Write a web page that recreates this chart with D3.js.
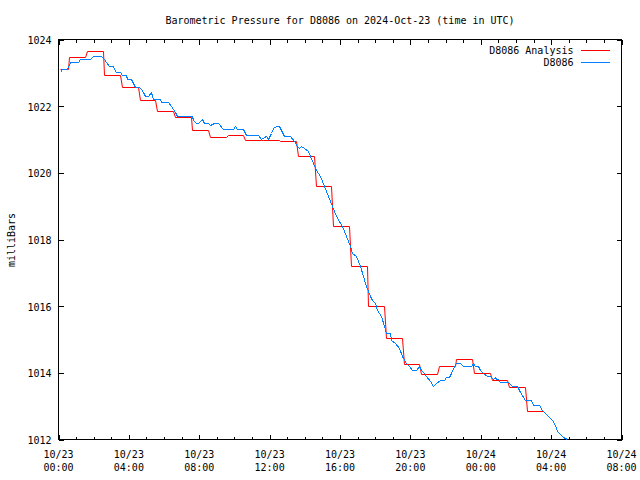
<!DOCTYPE html>
<html><head><meta charset="utf-8">
<script src="https://cdn.jsdelivr.net/npm/d3@7"></script>
<style>
body{margin:0;background:#fff}
svg{display:block}
text{font-family:"DejaVu Sans Mono",monospace;font-size:10px;fill:#000}
</style>
</head><body>
<svg id="c" width="640" height="480"></svg>
<script>
// ---------- data ----------
const chartTitle = "Barometric Pressure for D8086 on 2024-Oct-23 (time in UTC)";
const yAxisLabel = "milliBars";
const seriesNames = ["D8086 Analysis", "D8086"];
const seriesColors = ["#ff0000", "#0080ff"];

const xTickHours = [0, 4, 8, 12, 16, 20, 24, 28, 32];
const xTickDates = ["10/23","10/23","10/23","10/23","10/23","10/23","10/24","10/24","10/24"];
const xTickTimes = ["00:00","04:00","08:00","12:00","16:00","20:00","00:00","04:00","08:00"];
const yTicks = [1012, 1014, 1016, 1018, 1020, 1022, 1024];

// hourly analysis values (hours since 10/23 00:00 UTC)
const analysisHours = [0,1,2,3,4,5,6,7,8,9,10,11,12,13,14,15,16,17,18,19,20,21,22,23,24,25,26,27];
const analysisPressure = [1023.10,1023.46,1023.65,1022.92,1022.56,1022.18,1021.84,1021.67,1021.27,1021.06,
  1021.13,1020.98,1020.98,1020.93,1020.50,1019.60,1018.40,1017.20,1016.00,1015.03,
  1014.26,1013.96,1014.19,1014.40,1013.98,1013.78,1013.56,1012.85];

// station observations
const obsHours = [0.11,0.25,0.53,0.67,1.16,1.25,1.81,1.99,2.43,2.62,2.75,2.90,3.12,3.19,3.29,3.51,3.66,3.87,3.95,4.14,
  4.23,4.37,4.61,4.71,4.84,4.95,5.14,5.28,5.34,5.41,5.81,5.88,6.28,6.42,6.55,6.65,6.79,7.61,7.70,7.84,
  7.97,8.16,8.31,8.54,8.66,8.84,9.11,9.36,9.93,10.05,10.16,10.53,10.69,11.35,11.54,11.83,11.96,12.11,12.24,12.40,
  12.54,12.68,12.83,13.21,13.44,13.57,13.68,13.84,14.01,14.20,14.35,14.48,14.67,14.90,15.11,15.33,15.56,15.81,16.13,16.38,
  16.57,16.72,16.91,17.14,17.33,17.52,17.71,17.84,17.99,18.15,18.37,18.52,18.66,18.85,18.94,19.13,19.38,19.57,19.76,19.95,
  20.14,20.37,20.52,20.65,20.78,20.94,21.13,21.31,21.51,21.69,21.92,22.08,22.22,22.36,22.49,22.65,22.87,23.02,23.50,23.56,
  23.69,23.88,23.97,24.16,24.39,24.54,24.73,24.83,24.92,25.01,25.11,25.58,25.78,26.10,26.21,26.27,26.53,26.86,27.01,27.35,
  27.49,27.63,27.86,28.05,28.24,28.34,28.53,28.71,28.93];
const obsPressure = [1023.01,1023.10,1023.10,1023.30,1023.30,1023.40,1023.40,1023.49,1023.49,1023.40,1023.30,1023.20,1023.20,1023.10,1023.01,1023.01,1022.91,1022.91,1022.81,1022.81,
  1022.73,1022.56,1022.56,1022.51,1022.41,1022.30,1022.30,1022.41,1022.30,1022.21,1022.21,1022.11,1022.11,1022.00,1021.91,1021.80,1021.70,1021.70,1021.58,1021.48,
  1021.48,1021.60,1021.48,1021.48,1021.41,1021.48,1021.48,1021.30,1021.30,1021.40,1021.30,1021.30,1021.11,1021.11,1021.00,1021.10,1021.00,1021.18,1021.33,1021.40,
  1021.40,1021.28,1021.10,1021.10,1020.93,1020.80,1020.73,1020.80,1020.73,1020.63,1020.50,1020.28,1020.08,1019.88,1019.58,1019.28,1018.98,1018.68,1018.38,1018.08,
  1017.78,1017.58,1017.48,1017.18,1016.88,1016.58,1016.28,1016.18,1016.08,1015.88,1015.68,1015.38,1015.18,1015.18,1014.98,1014.88,1014.73,1014.48,1014.28,1014.18,
  1014.08,1014.08,1014.18,1014.08,1013.98,1013.88,1013.73,1013.58,1013.68,1013.76,1013.76,1013.86,1013.86,1013.98,1014.18,1014.28,1014.28,1014.20,1014.20,1014.28,
  1014.20,1014.20,1014.08,1013.98,1013.90,1013.90,1013.80,1013.86,1013.80,1013.80,1013.70,1013.70,1013.58,1013.58,1013.48,1013.40,1013.18,1013.18,1013.03,1013.03,
  1012.86,1012.80,1012.70,1012.58,1012.43,1012.23,1012.15,1012.06,1012.01];

// ---------- layout ----------
const L = 58.5, R = 621.5, T = 39.5, B = 439.5;
const svg = d3.select("#c");
const x = d3.scaleLinear().domain([0, 32]).range([L, R]);
const y = d3.scaleLinear().domain([1012, 1024]).range([B, T]);
const snap = v => Math.floor(v) + 0.5;

// title
svg.append("text").attr("x", 340).attr("y", 23.5).attr("text-anchor", "middle").text(chartTitle);

// y label
svg.append("text").attr("transform", "translate(15,240) rotate(-90)")
  .attr("text-anchor", "middle").text(yAxisLabel);

function styleAxis(g) {
  g.select(".domain").remove();
  g.selectAll("line").attr("stroke", "#000").attr("shape-rendering", "crispEdges");
  g.selectAll("text").attr("font-family", "DejaVu Sans Mono, monospace").attr("font-size", 10).attr("fill", "#000");
  g.attr("font-family", null).attr("font-size", null);
}
const minorHours = d3.range(0, 33).filter(h => h % 4 !== 0);

// bottom axis (ticks inward)
svg.append("g").attr("transform", `translate(0,${B})`)
  .call(d3.axisBottom(x).tickValues(xTickHours).tickSize(-5).tickFormat(""))
  .call(styleAxis);
svg.append("g").attr("transform", `translate(0,${B})`)
  .call(d3.axisBottom(x).tickValues(minorHours).tickSize(-3).tickFormat(""))
  .call(styleAxis);
// top axis
svg.append("g").attr("transform", `translate(0,${T})`)
  .call(d3.axisTop(x).tickValues(xTickHours).tickSize(-5).tickFormat(""))
  .call(styleAxis);
svg.append("g").attr("transform", `translate(0,${T})`)
  .call(d3.axisTop(x).tickValues(minorHours).tickSize(-3).tickFormat(""))
  .call(styleAxis);
// left axis with labels
const yl = svg.append("g").attr("transform", `translate(${L},0)`)
  .call(d3.axisLeft(y).tickValues(yTicks).tickSize(-5).tickPadding(7).tickFormat(d3.format("d")))
  .call(styleAxis);
yl.selectAll("text").attr("dy", "0.4em");
// right axis
svg.append("g").attr("transform", `translate(${R},0)`)
  .call(d3.axisRight(y).tickValues(yTicks).tickSize(-5).tickFormat(""))
  .call(styleAxis);

// x tick labels (two lines)
const xl = svg.append("g");
xTickHours.forEach((h, i) => {
  const t = xl.append("text").attr("text-anchor", "middle");
  t.append("tspan").attr("x", x(h)).attr("y", 457.5).text(xTickDates[i]);
  t.append("tspan").attr("x", x(h)).attr("y", 470.5).text(xTickTimes[i]);
});

// border
svg.append("rect").attr("x", L).attr("y", T).attr("width", R - L).attr("height", B - T)
  .attr("fill", "none").attr("stroke", "#000").attr("shape-rendering", "crispEdges");

// analysis (hourly step) line
const analysisPts = [];
analysisHours.forEach((h, i) => {
  const start = i === 0 ? obsHours[0] : h - 0.36;
  analysisPts.push([start, analysisPressure[i]]);
  analysisPts.push([h + 0.54, analysisPressure[i]]);
});
const snappedLine = d3.line().x(d => snap(x(d[0]))).y(d => snap(y(d[1])));
svg.append("path").datum(analysisPts).attr("d", snappedLine)
  .attr("fill", "none").attr("stroke", seriesColors[0]).attr("stroke-width", 1)
  .attr("stroke-linejoin", "miter");

// observation line
const obsPts = obsHours.map((h, i) => [h, obsPressure[i]]);
svg.append("path").datum(obsPts).attr("d", snappedLine)
  .attr("fill", "none").attr("stroke", seriesColors[1]).attr("stroke-width", 1)
  .attr("shape-rendering", "crispEdges");

// legend
const legY = [50.5, 62.5];
seriesNames.forEach((n, i) => {
  svg.append("text").attr("x", 573.5).attr("y", legY[i] + 3.7).attr("text-anchor", "end").text(n);
  svg.append("line").attr("x1", 581).attr("x2", 610).attr("y1", legY[i]).attr("y2", legY[i])
    .attr("stroke", seriesColors[i]).attr("shape-rendering", "crispEdges");
});
</script>
</body></html>
